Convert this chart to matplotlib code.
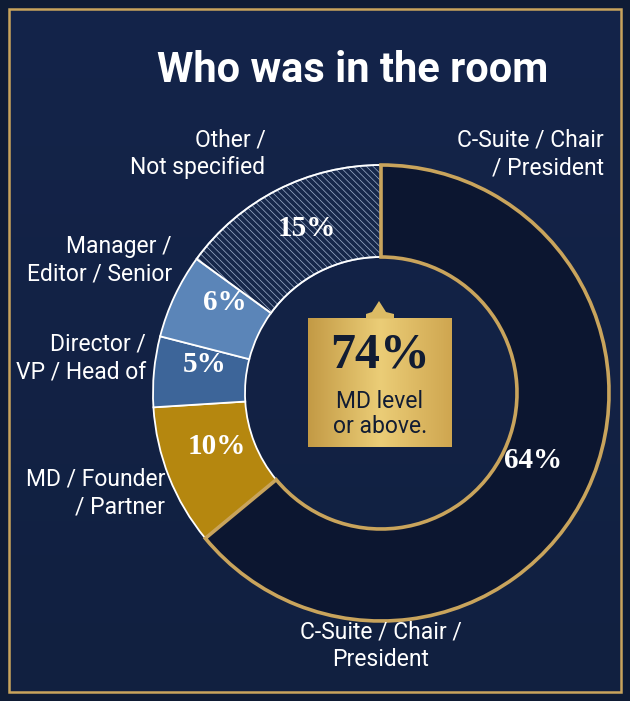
import numpy as np
import matplotlib.pyplot as plt
from matplotlib.patches import Rectangle, Polygon
from matplotlib.colors import LinearSegmentedColormap

# data
categories = ['C-Suite / Chair / President', 'MD / Founder / Partner', 'Director / VP / Head of',
              'Manager / Editor / Senior', 'Other / Not specified']
shares = [64, 10, 5, 6, 15]
pct_labels = ['64%', '10%', '5%', '6%', '15%']
headline_value = '74%'
headline_text = 'MD level\nor above.'

W, H = 630, 701
bg = '#13223f'
gold = '#c9a45c'
colors = ['#0c1630', '#b5870f', '#3d6599', '#5b85b8', '#16274a']

plt.rcParams['hatch.linewidth'] = 0.5
fig = plt.figure(figsize=(W / 100, H / 100), dpi=100)
ax = fig.add_axes([0, 0, 1, 1])

def Y(y):
    return H - y

# background + frame
ax.add_patch(Rectangle((0, 0), W, H, color='#0f1c35', zorder=0))
grad = np.linspace(0, 1, 256).reshape(-1, 1)
ax.imshow(grad, extent=(9, W - 9, Y(H - 9), Y(9)),
          cmap=LinearSegmentedColormap.from_list('bg', ['#14244a', '#112040']),
          aspect='auto', zorder=0.5)
ax.add_patch(Rectangle((9, Y(692)), W - 18, 683, fill=False, edgecolor=gold, lw=1.8, zorder=1))

# title
ax.text(353, Y(70), 'Who was in the room', color='white', fontsize=30, fontweight='bold',
        family=['Roboto', 'DejaVu Sans'], ha='center', va='center', zorder=5)

# donut
cx, cy, R, wdt = 381, Y(393), 228, 92
wedges, _ = ax.pie(shares, startangle=90, counterclock=False, radius=R, center=(cx, cy),
                   colors=colors, wedgeprops=dict(width=wdt, edgecolor='white', linewidth=1.3))
for w in wedges:
    w.set_zorder(2)
wedges[0].set_edgecolor(gold)
wedges[0].set_linewidth(2.6)
wedges[0].set_zorder(3)
wedges[4].set_hatch('\\\\\\\\\\')
wedges[4].set_edgecolor('#9fb0cc')
# white outline on top of the hatched wedge
ax.pie([shares[4] / 100], startangle=90 - 3.6 * sum(shares[:4]), counterclock=False, radius=R,
       center=(cx, cy), colors=['none'], normalize=False,
       wedgeprops=dict(width=wdt, edgecolor='white', linewidth=1.3, fill=False, zorder=2.5))

# percent labels
pct_pos = [(533, 460), (217, 446), (205, 365), (225, 303), (307, 228)]
for (x, y), t in zip(pct_pos, pct_labels):
    ax.text(x, Y(y), t, color='white', fontsize=21, fontweight='bold',
            family=['Liberation Serif', 'DejaVu Serif'], ha='center', va='center', zorder=6)

# category labels
lab_font = dict(color='white', fontsize=16.5, family=['Roboto', 'DejaVu Sans'], va='center', zorder=6,
                linespacing=1.25)
ax.text(604, Y(154), 'C-Suite / Chair\n/ President', ha='right', multialignment='right', **lab_font)
ax.text(198, Y(154), 'Other /\nNot specified', ha='center', multialignment='right', **lab_font)
ax.text(172, Y(260), 'Manager /\nEditor / Senior', ha='right', multialignment='right', **lab_font)
ax.text(146, Y(358), 'Director /\nVP / Head of', ha='right', multialignment='right', **lab_font)
ax.text(165, Y(493), 'MD / Founder\n/ Partner', ha='right', multialignment='right', **lab_font)
ax.text(381, Y(646), 'C-Suite / Chair /\nPresident', ha='center', multialignment='center', **lab_font)

# center callout box
gcmap = LinearSegmentedColormap.from_list('gold', ['#c39a45', '#ebcd77', '#cfa650'])
ggrad = np.linspace(0, 1, 256).reshape(1, -1)
ax.imshow(ggrad, extent=(308, 452, Y(447), Y(318)), cmap=gcmap, aspect='auto', zorder=4)
ax.add_patch(Polygon([(366, Y(318.5)), (366, Y(314)), (372, Y(312)), (379, Y(301)), (386, Y(312)),
                      (394, Y(314)), (394, Y(318.5))],
                     closed=True, color='#dcbb64', lw=0, zorder=4))
ax.text(380, Y(356), headline_value, color='#111c33', fontsize=36, fontweight='bold',
        family=['Liberation Serif', 'DejaVu Serif'], ha='center', va='center', zorder=6)
ax.text(380, Y(414), headline_text, color='#111c33', fontsize=16.5, family=['Roboto', 'DejaVu Sans'],
        ha='center', va='center', linespacing=1.15, zorder=6)

ax.set_xlim(0, W)
ax.set_ylim(0, H)
ax.set_aspect('auto')
ax.axis('off')

fig.savefig('out.png', dpi=100, facecolor=bg)
